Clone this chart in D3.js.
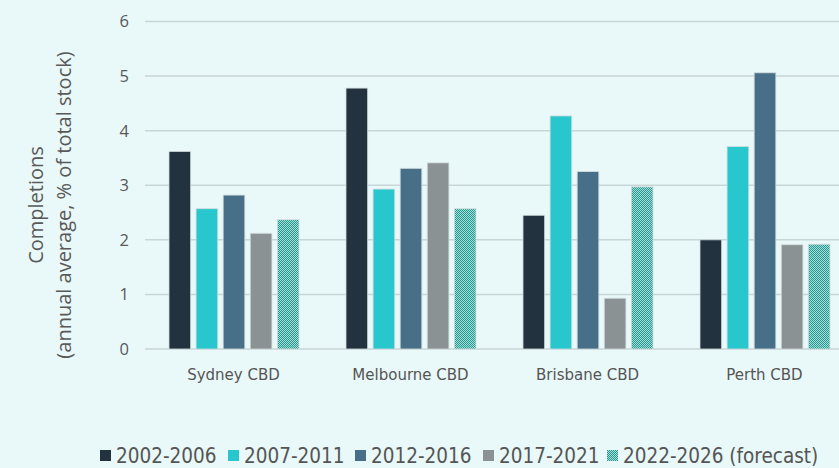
<!DOCTYPE html>
<html lang="en">
<head>
<meta charset="UTF-8">
<title>CBD office completions</title>
<script src="https://d3js.org/d3.v7.min.js"></script>
<style>
    html, body { margin: 0; padding: 0; background: #e9f8f8; overflow: hidden; }
    svg { display: block; }
</style>
</head>
<body>
<svg id="chart" width="839" height="468"></svg>
<script>
    const cities = ["Sydney CBD", "Melbourne CBD", "Brisbane CBD", "Perth CBD"];
    const periods = ["2002-2006", "2007-2011", "2012-2016", "2017-2021", "2022-2026 (forecast)"];
    const s2002 = [3.62, 4.78, 2.45, 2.00];
    const s2007 = [2.57, 2.93, 4.27, 3.71];
    const s2012 = [2.82, 3.31, 3.25, 5.06];
    const s2017 = [2.12, 3.41, 0.93, 1.91];
    const s2022 = [2.37, 2.57, 2.97, 1.92];
    const yTicks = [0, 1, 2, 3, 4, 5, 6];

    const series = [s2002, s2007, s2012, s2017, s2022];
    const colors = ["#22333f", "#27c7cd", "#476f87", "#8a9294", "url(#checker)"];

    const svg = d3.select("#chart");

    // checkered fill for the forecast bars
    const defs = svg.append("defs");
    const pat = defs.append("pattern")
        .attr("id", "checker")
        .attr("patternUnits", "userSpaceOnUse")
        .attr("width", 2).attr("height", 2);
    pat.append("rect").attr("width", 2).attr("height", 2).attr("fill", "#a6ddd8");
    pat.append("rect").attr("width", 1).attr("height", 1).attr("fill", "#23998f");
    pat.append("rect").attr("x", 1).attr("y", 1).attr("width", 1).attr("height", 1).attr("fill", "#23998f");

    const x0 = d3.scaleBand().domain(cities).range([145, 853]);
    const x1 = d3.scaleBand().domain(d3.range(periods.length))
        .range([24, x0.bandwidth() - 23]).paddingInner(0.2);
    const y = d3.scaleLinear().domain([0, 6]).range([349, 21.5]);

    // gridlines
    svg.append("g").selectAll("line")
        .data(yTicks)
        .join("line")
        .attr("x1", 145).attr("x2", 853)
        .attr("y1", d => y(d)).attr("y2", d => y(d))
        .attr("stroke", "#c8d6d8")
        .attr("stroke-width", 1.5);

    // y tick labels
    svg.append("g").selectAll("text")
        .data(yTicks)
        .join("text")
        .attr("x", 129)
        .attr("y", d => y(d))
        .attr("dy", "0.36em")
        .attr("text-anchor", "end")
        .attr("font-family", "Open Sans, sans-serif")
        .attr("font-size", 16.5)
        .attr("fill", "#595959")
        .text(d => d);

    // bars
    const groups = svg.append("g").selectAll("g")
        .data(cities)
        .join("g")
        .attr("transform", d => `translate(${x0(d)},0)`);

    groups.selectAll("rect")
        .data((c, ci) => series.map((s, si) => ({ si, v: s[ci] })))
        .join("rect")
        .attr("x", d => x1(d.si))
        .attr("width", x1.bandwidth())
        .attr("y", d => y(d.v))
        .attr("height", d => y(0) - y(d.v))
        .attr("fill", d => colors[d.si])
        .attr("stroke", "#d4dcdd")
        .attr("stroke-width", 0.8);

    // category labels
    svg.append("g").selectAll("text")
        .data(cities)
        .join("text")
        .attr("x", d => x0(d) + x0.bandwidth() / 2)
        .attr("y", 380)
        .attr("text-anchor", "middle")
        .attr("font-family", "DejaVu Sans, sans-serif")
        .attr("font-size", 15)
        .attr("fill", "#555")
        .text(d => d);

    // y axis title
    const yt = svg.append("text")
        .attr("transform", "translate(0,205) rotate(-90)")
        .attr("text-anchor", "middle")
        .attr("font-family", "Open Sans, sans-serif")
        .attr("font-size", 20)
        .attr("fill", "#595959");
    yt.append("tspan").attr("x", 0).attr("y", 43).text("Completions");
    yt.append("tspan").attr("x", 0).attr("y", 71).text("(annual average, % of total stock)");

    // legend
    const legendX = [100, 228, 355, 483, 607];
    const lg = svg.append("g").selectAll("g")
        .data(periods)
        .join("g")
        .attr("transform", (d, i) => `translate(${legendX[i]},0)`);
    lg.append("rect")
        .attr("x", 0).attr("y", 450)
        .attr("width", 11).attr("height", 11)
        .attr("fill", (d, i) => colors[i]);
    lg.append("text")
        .attr("x", 16).attr("y", 463)
        .attr("font-family", "DejaVu Sans Condensed, DejaVu Sans, sans-serif")
        .attr("font-stretch", "condensed")
        .attr("font-size", 20.5)
        .attr("fill", "#555")
        .text(d => d);
</script>
</body>
</html>
